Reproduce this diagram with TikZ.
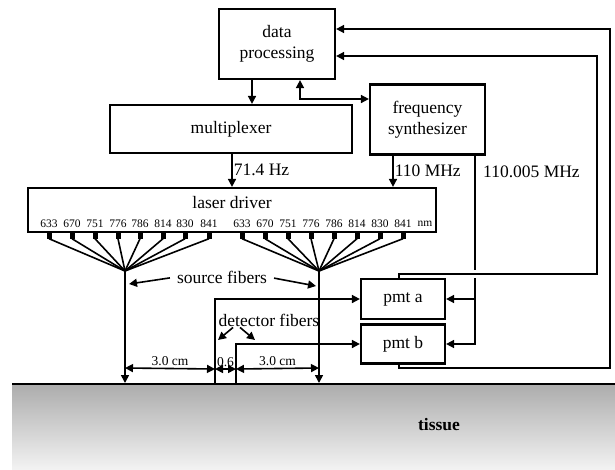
\documentclass[tikz,border=0pt]{standalone}
\usepackage{fontspec}
\setmainfont{Liberation Serif}
\usetikzlibrary{positioning,arrows.meta}

\begin{document}
\begin{tikzpicture}
    [x=1pt,y=-1pt,>={Triangle[length=8pt,width=8pt]},
     box/.style={draw, line width=2.2pt, inner sep=0pt, align=center, font=\fontsize{17.5}{21}\selectfont},
     lbl/.style={inner sep=1pt, font=\fontsize{17.5}{21}\selectfont},
     num/.style={inner sep=0pt, font=\fontsize{11.5}{13}\selectfont},
     dim/.style={inner sep=1pt, font=\fontsize{13.5}{15}\selectfont},
     stub/.style={fill, inner sep=0pt, minimum width=5pt, minimum height=6pt},
     wire/.style={line width=1.6pt}]
  \useasboundingbox (0,0) rectangle (615,469);

  % tissue
  \shade[top color=gray!65, bottom color=gray!10] (12,384) rectangle (615,469);
  \draw[line width=1.6pt] (12,384) -- (615,384);
  \node[lbl] (tissue) at (439,425) {\textbf{tissue}};

  % boxes
  \node[box, minimum width=116pt, minimum height=70pt] (dp) at (277,44) {data\\processing};
  \node[box, minimum width=242pt, minimum height=48pt] (mux) at (231,129) {multiplexer};
  \node[box, minimum width=115pt, minimum height=70pt] (fs) at (427.5,119.5) {frequency\\synthesizer};
  \node[box, minimum width=408pt, minimum height=44pt] (ld) at (232,210) {};
  \node[lbl] (ldtxt) at (232,203) {laser driver};
  \node[box, minimum width=84pt, minimum height=40pt] (pa) at (403,299) {pmt a};
  \node[box, minimum width=84pt, minimum height=39pt] (pb) at (403,344) {pmt b};

  % control lines
  \coordinate (bend) at (300,99);
  \draw[wire,->] ([xshift=-25pt]dp.south) -- ([xshift=-25pt]dp.south |- mux.north);
  \draw[wire,<->] (bend |- dp.south) -- (bend) -- (bend -| fs.west);
  \draw[wire,->] ([xshift=1pt]mux.south) -- node[lbl, right, pos=0.48] (f1) {71.4 Hz} ([xshift=1pt]mux.south |- ld.north);
  \draw[wire,->] ([xshift=-34.5pt]fs.south) -- node[lbl, right, pos=0.48] (f2) {110 MHz} ([xshift=-34.5pt]fs.south |- ld.north);

  % reference frequency to the pmts
  \coordinate (ref) at (475,155);
  \coordinate (gapT) at (475,270);
  \coordinate (gapB) at (475,278);
  \node[lbl, anchor=west] (f3) at (482,172) {110.005 MHz};
  \draw[wire] (ref) -- (gapT);
  \draw[wire,->] (gapB) |- (pb.east);
  \draw[wire,->] (ref |- pa.east) -- (pa.east);

  % pmt outputs back to data processing
  \coordinate (ra) at (597,274);
  \coordinate (rb) at (610,368);
  \draw[wire,->] ([xshift=-4pt]pa.north) |- (ra) |- ([yshift=-12pt]dp.east);
  \draw[wire,->] ([xshift=-4pt]pb.south) |- (rb) |- ([yshift=15pt]dp.east);

  % source fibers
  \coordinate (fanA) at (125,271);
  \coordinate (fanB) at (319,271);
  \foreach \x/\w in {49/633,72/670,95/751,118/776,140/786,163/814,185/830,209/841}{
    \node[num] (wa\x) at (\x,224) {\w};
    \node[stub] (sa\x) at (\x,235.5) {};
    \draw[wire] (sa\x.south) -- (fanA);
  }
  \foreach \x/\w in {242/633,265/670,288/751,311/776,334/786,357/814,380/830,403/841}{
    \node[num] (wb\x) at (\x,224) {\w};
    \node[stub] (sb\x) at (\x,235.5) {};
    \draw[wire] (sb\x.south) -- (fanB);
  }
  \node[num] (nm) at (425,224) {nm};

  \coordinate (srcA) at (125,383);
  \coordinate (srcB) at (319,383);
  \draw[wire,->] (fanA) -- (srcA);
  \draw[wire,->] (fanB) -- (srcB);

  \node[lbl] (srcl) at (222,277) {source fibers};
  \coordinate (sA) at (129,284);
  \coordinate (sB) at (316,286);
  \draw[wire,->,shorten <=6pt] (srcl.west) -- (sA);
  \draw[wire,->,shorten <=6pt] (srcl.east) -- (sB);

  % detector fibers
  \coordinate (det1) at (215,384);
  \coordinate (det2) at (236,384);
  \draw[wire,->] (det1) |- (pa.west);
  \draw[wire,->] (det2) |- (pb.west);

  \node[lbl] (detl) at (269,320) {detector fibers};
  \coordinate (dA) at (218,340);
  \coordinate (dB) at (255,340);
  \draw[wire,->] ([xshift=-36pt]detl.south) -- (dA);
  \draw[wire,->] ([xshift=-29pt]detl.south) -- (dB);

  % distances
  \draw[wire,<->] ([yshift=15pt]srcA) -- node[dim, above=1pt] (d1) {3.0 cm} ([yshift=15pt]det1);
  \draw[wire,<->] ([yshift=15pt]det1) -- node[dim, above=1pt] (d2) {0.6} ([yshift=15pt]det2);
  \draw[wire,<->] ([yshift=15pt]det2) -- node[dim, above=1pt] (d3) {3.0 cm} ([yshift=15pt]srcB);
\end{tikzpicture}
\end{document}
